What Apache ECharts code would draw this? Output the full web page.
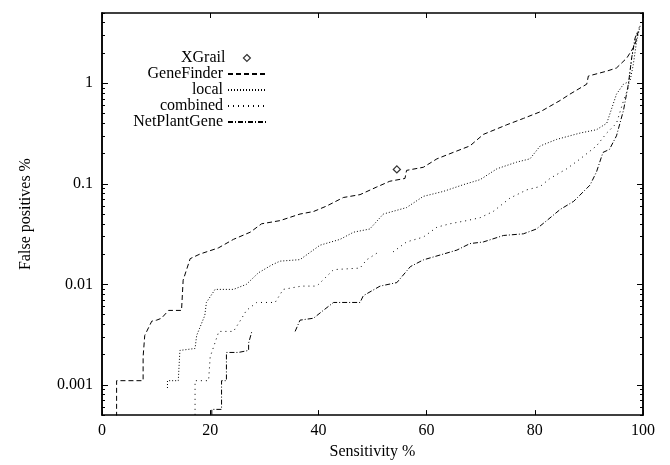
<!DOCTYPE html>
<html>
<head>
<meta charset="utf-8">
<script src="https://cdn.jsdelivr.net/npm/echarts@6/dist/echarts.min.js"></script>
<style>
  html, body { margin: 0; padding: 0; background: #fff; }
  #chart { width: 670px; height: 465px; }
</style>
</head>
<body>
<div id="chart"></div>
<script>
// values (x = sensitivity %, y = false positives %)
const xgrailX = [54.5]
const xgrailY = [0.139]

const geneFinderX = [2.7, 2.7, 7.6, 7.6, 7.9, 9.2, 10.1, 11.0, 12.3, 14.7, 15.0, 16.3, 18.1, 21.5, 24.3, 27.4, 29.5, 32.9, 36.6, 39.1, 41.5, 44.6, 47.7, 50.8, 53.2, 56.0, 56.3, 59.4, 61.9, 64.9, 68.0, 70.5, 74.8, 77.9, 81.0, 84.7, 86.5, 89.6, 89.9, 93.3, 95.1, 97.0, 98.5, 99.3]
const geneFinderY = [0.0004, 0.0011, 0.0011, 0.0019, 0.0031, 0.0043, 0.0044, 0.0046, 0.0055, 0.0055, 0.011, 0.018, 0.020, 0.023, 0.028, 0.033, 0.040, 0.043, 0.050, 0.053, 0.060, 0.073, 0.078, 0.093, 0.106, 0.113, 0.136, 0.146, 0.177, 0.205, 0.238, 0.31, 0.386, 0.447, 0.52, 0.675, 0.78, 0.98, 1.18, 1.32, 1.42, 1.78, 2.39, 3.6]

const localX = [12.1, 12.1, 14.1, 14.4, 17.2, 17.5, 19.0, 19.3, 20.9, 24.3, 26.7, 28.9, 31.4, 32.9, 36.6, 40.3, 44.0, 46.5, 49.5, 52.0, 56.3, 59.4, 63.1, 66.8, 69.9, 73.0, 76.6, 79.1, 81.0, 84.0, 88.4, 91.4, 93.3, 95.1, 96.4, 97.6, 98.2, 98.8, 99.5]
const localY = [0.00093, 0.0011, 0.0011, 0.0022, 0.0023, 0.0031, 0.0049, 0.0066, 0.0089, 0.0089, 0.010, 0.013, 0.0156, 0.017, 0.0176, 0.0245, 0.028, 0.033, 0.0355, 0.050, 0.058, 0.075, 0.084, 0.098, 0.11, 0.141, 0.164, 0.177, 0.238, 0.276, 0.32, 0.345, 0.40, 0.78, 0.98, 1.05, 1.53, 2.58, 3.8]

const combinedX = [17.2, 17.2, 19.7, 20.0, 21.6, 24.3, 25.5, 26.7, 28.6, 32.0, 33.5, 36.9, 39.7, 42.8, 47.7, 48.9, 50.8, 52.3, 53.8, 56.3, 59.4, 61.9, 64.3, 67.4, 69.9, 72.3, 75.4, 78.5, 81.0, 82.8, 85.9, 88.4, 91.4, 93.3, 95.1, 96.4, 97.3, 97.9, 98.5, 99.2]
const combinedY = [0.0004, 0.0011, 0.0011, 0.0019, 0.0034, 0.0034, 0.0043, 0.0055, 0.0066, 0.0066, 0.0089, 0.0096, 0.0096, 0.014, 0.0145, 0.0175, 0.0204, null, 0.021, 0.0264, 0.0295, 0.037, 0.040, 0.043, 0.046, 0.053, 0.072, 0.087, 0.094, 0.113, 0.141, 0.177, 0.238, 0.32, 0.40, 0.67, 0.91, 1.78, 2.58, 3.4]

const netPlantX = [20.3, 20.3, 22.1, 22.1, 23.0, 23.0, 25.2, 27.1, 27.1, 27.7, 31.0, 35.7, 36.6, 39.1, 40.9, 42.8, 47.7, 48.3, 51.4, 54.5, 57.0, 59.4, 63.1, 65.6, 68.0, 70.5, 74.2, 77.9, 80.3, 82.2, 84.7, 87.2, 90.2, 91.4, 92.6, 93.8, 95.1, 96.4, 97.3, 97.9, 98.5, 99.0]
const netPlantY = [0.0004, 0.00057, 0.00057, 0.0011, 0.0011, 0.0021, 0.0021, 0.0022, 0.0026, 0.0034, null, 0.0034, 0.0044, 0.0046, 0.0055, 0.0066, 0.0066, 0.0077, 0.0096, 0.0104, 0.015, 0.0175, 0.020, 0.0219, 0.0254, 0.0264, 0.0306, 0.0318, 0.0355, 0.043, 0.0556, 0.067, 0.097, 0.131, 0.205, 0.22, 0.30, 0.54, 0.98, 1.78, 2.78, 3.3]

const xTicks = [0, 20, 40, 60, 80, 100]
const yMajor = [0.001, 0.01, 0.1, 1]
const yMinor = [0.0005, 0.0006, 0.0007, 0.0008, 0.0009,
  0.002, 0.003, 0.004, 0.005, 0.006, 0.007, 0.008, 0.009,
  0.02, 0.03, 0.04, 0.05, 0.06, 0.07, 0.08, 0.09,
  0.2, 0.3, 0.4, 0.5, 0.6, 0.7, 0.8, 0.9,
  2, 3, 4, 5]

const FONT = '"Liberation Serif", "DejaVu Serif", serif'
const zip = (xs, ys) => xs.map((x, i) => [x, ys[i]])

const lineSeries = (name, xs, ys, dash) => ({
  name,
  type: 'line',
  data: zip(xs, ys),
  symbol: 'none',
  connectNulls: false,
  clip: true,
  lineStyle: { color: '#000', width: 1, type: dash },
  itemStyle: { color: '#000' },
  animation: false
})

// one legend per row so the texts end at the same x, like gnuplot's key
const legendRow = (name, top, extra) => Object.assign({
  data: [name],
  right: 398,
  top,
  orient: 'vertical',
  align: 'right',
  itemWidth: 38,
  itemHeight: 10,
  selectedMode: false,
  itemStyle: { opacity: 0 },
  textStyle: { fontFamily: FONT, fontSize: 16, color: '#000' }
}, extra || {})

const xAxisBase = {
  type: 'value',
  min: 0,
  max: 100,
  interval: 20,
  splitLine: { show: false },
  axisLine: { show: true, onZero: false, lineStyle: { color: '#000', width: 1.5 } },
  axisTick: { show: true, inside: true, length: 5, lineStyle: { color: '#000' }, customValues: xTicks }
}

const yAxisBase = (position, ticks, len, labels) => ({
  type: 'log',
  logBase: 10,
  min: 0.0005,
  max: 5,
  position,
  splitLine: { show: false },
  axisLine: { show: true, lineStyle: { color: '#000', width: 1.5 } },
  axisTick: { show: true, inside: true, length: len, lineStyle: { color: '#000' }, customValues: ticks },
  axisLabel: labels
    ? { show: true, customValues: yMajor, formatter: (v) => String(v), fontFamily: FONT, fontSize: 16, color: '#000', margin: 9 }
    : { show: false }
})

const chart = echarts.init(document.getElementById('chart'), null, { renderer: 'canvas' })

const yLeft = yAxisBase('left', yMajor, 6, true)
yLeft.name = 'False positives %'
yLeft.nameLocation = 'middle'
yLeft.nameGap = 68
yLeft.nameTextStyle = { fontFamily: FONT, fontSize: 16, color: '#000' }

chart.setOption({
  animation: false,
  backgroundColor: '#fff',
  grid: { left: 102, right: 27, top: 13, bottom: 39 },
  legend: [
    legendRow('XGrail', 45, {
      right: 414,
      itemWidth: 7,
      itemHeight: 7,
      itemStyle: { color: '#fff', borderColor: '#000', borderWidth: 1.2 },
      textStyle: { fontFamily: FONT, fontSize: 16, color: '#000', padding: [0, 13, 0, 0] }
    }),
    legendRow('GeneFinder', 61),
    legendRow('local', 77),
    legendRow('combined', 93),
    legendRow('NetPlantGene', 109)
  ],
  xAxis: [
    Object.assign({}, xAxisBase, {
      position: 'bottom',
      name: 'Sensitivity %',
      nameLocation: 'middle',
      nameGap: 24,
      nameTextStyle: { fontFamily: FONT, fontSize: 16, color: '#000' },
      axisLabel: { fontFamily: FONT, fontSize: 16, color: '#000', margin: 8 }
    }),
    Object.assign({}, xAxisBase, { position: 'top', axisLabel: { show: false } })
  ],
  yAxis: [
    yLeft,
    yAxisBase('left', yMinor, 3, false),
    yAxisBase('right', yMajor, 6, false),
    yAxisBase('right', yMinor, 3, false)
  ],
  series: [
    {
      name: 'XGrail',
      type: 'scatter',
      data: zip(xgrailX, xgrailY),
      symbol: 'diamond',
      symbolSize: 7,
      itemStyle: { color: '#fff', borderColor: '#000', borderWidth: 1.3 },
      z: 5
    },
    lineSeries('GeneFinder', geneFinderX, geneFinderY, [5, 3]),
    lineSeries('local', localX, localY, [1, 2]),
    lineSeries('combined', combinedX, combinedY, [1, 4]),
    lineSeries('NetPlantGene', netPlantX, netPlantY, [5, 2, 1, 2])
  ]
})
</script>
</body>
</html>
